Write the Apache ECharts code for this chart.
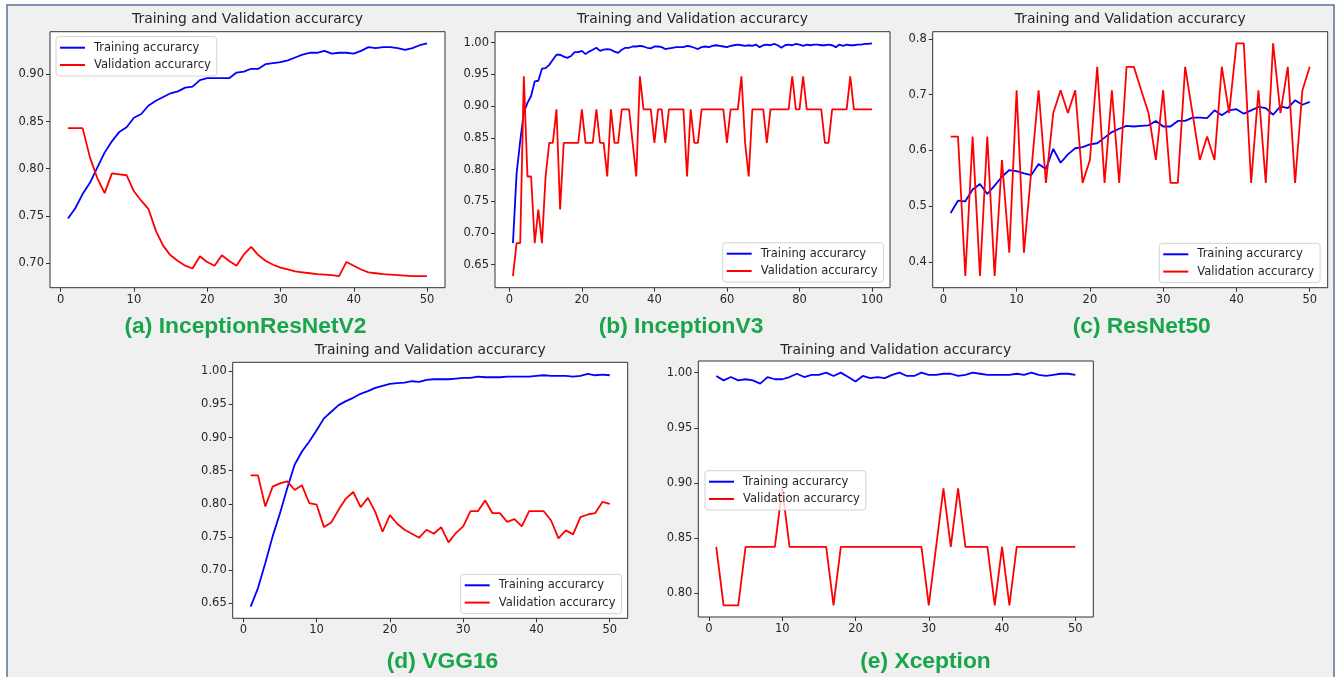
<!DOCTYPE html>
<html>
<head>
<meta charset="utf-8">
<script src="https://cdn.jsdelivr.net/npm/echarts@6/dist/echarts.min.js"></script>
<style>
  html, body { margin: 0; padding: 0; background: #fff; }
  #chart { width: 1339px; height: 677px; }
</style>
</head>
<body>
<div id="chart"></div>
<script>
// accuracy per epoch
const trainA = [0.747, 0.758, 0.773, 0.785, 0.801, 0.817, 0.829, 0.839, 0.844, 0.854,
  0.858, 0.867, 0.872, 0.876, 0.880, 0.882, 0.886, 0.887, 0.894, 0.896,
  0.896, 0.896, 0.896, 0.902, 0.903, 0.906, 0.906, 0.911, 0.912, 0.913,
  0.915, 0.918, 0.921, 0.923, 0.923, 0.925, 0.922, 0.923, 0.923, 0.922,
  0.925, 0.929, 0.928, 0.929, 0.929, 0.928, 0.926, 0.928, 0.931, 0.933];
const valA = [0.843, 0.843, 0.843, 0.812, 0.790, 0.774, 0.795, 0.794, 0.793, 0.776,
  0.766, 0.757, 0.734, 0.718, 0.708, 0.702, 0.697, 0.694, 0.707, 0.701,
  0.697, 0.708, 0.702, 0.697, 0.709, 0.717, 0.708, 0.702, 0.698, 0.695,
  0.693, 0.691, 0.690, 0.689, 0.688, 0.6875, 0.687, 0.686, 0.701, 0.697,
  0.693, 0.690, 0.689, 0.688, 0.6875, 0.687, 0.6865, 0.686, 0.686, 0.686];

const trainB = [0.684, 0.793, 0.845, 0.890, 0.905, 0.916, 0.939, 0.940, 0.959, 0.960,
  0.965, 0.973, 0.981, 0.981, 0.978, 0.976, 0.979, 0.985, 0.985, 0.987,
  0.982, 0.986, 0.989, 0.992, 0.987, 0.989, 0.990, 0.989, 0.986, 0.984,
  0.989, 0.992, 0.992, 0.994, 0.994, 0.995, 0.994, 0.992, 0.991, 0.994,
  0.994, 0.993, 0.990, 0.991, 0.992, 0.993, 0.993, 0.993, 0.995, 0.994,
  0.992, 0.990, 0.993, 0.994, 0.993, 0.995, 0.996, 0.995, 0.994, 0.993,
  0.995, 0.996, 0.997, 0.996, 0.995, 0.996, 0.995, 0.997, 0.993, 0.996,
  0.997, 0.996, 0.998, 0.996, 0.992, 0.996, 0.997, 0.996, 0.998, 0.997,
  0.995, 0.997, 0.996, 0.997, 0.997, 0.996, 0.996, 0.997, 0.996, 0.993,
  0.997, 0.995, 0.997, 0.996, 0.996, 0.997, 0.997, 0.998, 0.998, 0.999];
const valB = [0.632, 0.684, 0.684, 0.947, 0.789, 0.789, 0.684, 0.737, 0.684, 0.789,
  0.842, 0.842, 0.895, 0.737, 0.842, 0.842, 0.842, 0.842, 0.842, 0.895,
  0.842, 0.842, 0.842, 0.895, 0.842, 0.842, 0.789, 0.895, 0.842, 0.842,
  0.895, 0.895, 0.895, 0.842, 0.789, 0.947, 0.895, 0.895, 0.895, 0.842,
  0.895, 0.895, 0.842, 0.895, 0.895, 0.895, 0.895, 0.895, 0.789, 0.895,
  0.842, 0.842, 0.895, 0.895, 0.895, 0.895, 0.895, 0.895, 0.895, 0.842,
  0.895, 0.895, 0.895, 0.947, 0.842, 0.789, 0.895, 0.895, 0.895, 0.895,
  0.842, 0.895, 0.895, 0.895, 0.895, 0.895, 0.895, 0.947, 0.895, 0.895,
  0.947, 0.895, 0.895, 0.895, 0.895, 0.895, 0.842, 0.842, 0.895, 0.895,
  0.895, 0.895, 0.895, 0.947, 0.895, 0.895, 0.895, 0.895, 0.895, 0.895];

const trainC = [0.488, 0.510, 0.509, 0.530, 0.540, 0.522, 0.537, 0.553, 0.565, 0.563,
  0.559, 0.556, 0.576, 0.567, 0.603, 0.578, 0.593, 0.604, 0.606, 0.611,
  0.613, 0.623, 0.633, 0.639, 0.644, 0.643, 0.644, 0.645, 0.653, 0.643,
  0.643, 0.653, 0.653, 0.659, 0.659, 0.658, 0.672, 0.663, 0.672, 0.674,
  0.666, 0.672, 0.678, 0.676, 0.664, 0.679, 0.676, 0.690, 0.682, 0.687];
const valC = [0.625, 0.625, 0.375, 0.625, 0.375, 0.625, 0.375, 0.583, 0.417, 0.708,
  0.417, 0.563, 0.708, 0.542, 0.667, 0.708, 0.667, 0.708, 0.542, 0.583,
  0.750, 0.542, 0.708, 0.542, 0.750, 0.750, 0.708, 0.667, 0.583, 0.708,
  0.542, 0.542, 0.750, 0.667, 0.583, 0.625, 0.583, 0.750, 0.667, 0.792,
  0.792, 0.542, 0.708, 0.542, 0.792, 0.667, 0.750, 0.542, 0.708, 0.750];

const trainD = [0.645, 0.673, 0.711, 0.751, 0.786, 0.824, 0.859, 0.879, 0.894, 0.911,
  0.929, 0.939, 0.949, 0.955, 0.960, 0.966, 0.970, 0.975, 0.978, 0.981,
  0.982, 0.983, 0.985, 0.984, 0.987, 0.988, 0.988, 0.988, 0.989, 0.990,
  0.990, 0.992, 0.991, 0.991, 0.991, 0.992, 0.992, 0.992, 0.992, 0.993,
  0.994, 0.993, 0.993, 0.993, 0.992, 0.993, 0.996, 0.994, 0.995, 0.994];
const valD = [0.843, 0.843, 0.796, 0.826, 0.831, 0.834, 0.821, 0.828, 0.801, 0.799,
  0.765, 0.772, 0.791, 0.808, 0.818, 0.795, 0.809, 0.788, 0.758, 0.783,
  0.770, 0.761, 0.755, 0.749, 0.761, 0.755, 0.765, 0.742, 0.756, 0.766,
  0.789, 0.789, 0.805, 0.786, 0.786, 0.773, 0.777, 0.766, 0.789, 0.789,
  0.789, 0.775, 0.748, 0.760, 0.754, 0.780, 0.784, 0.786, 0.803, 0.800];

const trainE = [0.997, 0.993, 0.996, 0.993, 0.994, 0.993, 0.990, 0.996, 0.994, 0.994,
  0.996, 0.999, 0.996, 0.998, 0.998, 1.000, 0.997, 1.000, 0.996, 0.992,
  0.997, 0.995, 0.996, 0.995, 0.998, 1.000, 0.997, 0.997, 1.000, 0.998,
  0.998, 0.999, 0.999, 0.997, 0.998, 1.000, 0.999, 0.998, 0.998, 0.998,
  0.998, 0.999, 0.998, 1.000, 0.998, 0.997, 0.998, 0.999, 0.999, 0.998];
const valE = [0.842, 0.789, 0.789, 0.789, 0.842, 0.842, 0.842, 0.842, 0.842, 0.895,
  0.842, 0.842, 0.842, 0.842, 0.842, 0.842, 0.789, 0.842, 0.842, 0.842,
  0.842, 0.842, 0.842, 0.842, 0.842, 0.842, 0.842, 0.842, 0.842, 0.789,
  0.842, 0.895, 0.842, 0.895, 0.842, 0.842, 0.842, 0.842, 0.789, 0.842,
  0.789, 0.842, 0.842, 0.842, 0.842, 0.842, 0.842, 0.842, 0.842, 0.842];

// tick labels
const xTicks50 = [0, 10, 20, 30, 40, 50];
const xTicks100 = [0, 20, 40, 60, 80, 100];
const yTicksA = [0.70, 0.75, 0.80, 0.85, 0.90];
const yTicksB = [0.65, 0.70, 0.75, 0.80, 0.85, 0.90, 0.95, 1.00];
const yTicksC = [0.4, 0.5, 0.6, 0.7, 0.8];
const yTicksD = [0.65, 0.70, 0.75, 0.80, 0.85, 0.90, 0.95, 1.00];
const yTicksE = [0.80, 0.85, 0.90, 0.95, 1.00];

const captions = ['(a) InceptionResNetV2', '(b) InceptionV3', '(c) ResNet50', '(d) VGG16', '(e) Xception'];
const plotTitle = 'Training and Validation accurarcy';
const trainName = 'Training accurarcy';
const valName = 'Validation accurarcy';

// layout of each subplot (pixels)
const panels = [
  { train: trainA, val: valA, xTicks: xTicks50, yTicks: yTicksA, dec: 2, box: [50, 31.7], legend: [56, 36.7], cap: [245.5, 327], titleY: 19.5 },
  { train: trainB, val: valB, xTicks: xTicks100, yTicks: yTicksB, dec: 2, box: [495, 31.7], legend: [722.7, 242.7], cap: [681, 327], titleY: 19.5 },
  { train: trainC, val: valC, xTicks: xTicks50, yTicks: yTicksC, dec: 1, box: [932.7, 31.7], legend: [1159.3, 243.3], cap: [1141.7, 327], titleY: 19.5 },
  { train: trainD, val: valD, xTicks: xTicks50, yTicks: yTicksD, dec: 2, box: [232.7, 362.3], legend: [460.7, 574.3], cap: [442.5, 661.7], titleY: 350.5 },
  { train: trainE, val: valE, xTicks: xTicks50, yTicks: yTicksE, dec: 2, box: [698.3, 361], legend: [705, 470.7], cap: [925.5, 661.7], titleY: 350.5 }
];
const PW = 395, PH = 256;

// matplotlib style 5% margins
function padExtent(lo, hi) {
  const m = (hi - lo) * 0.05;
  return [lo - m, hi + m];
}

const tickFont = { color: '#262626', fontSize: 11.5, fontFamily: 'DejaVu Sans' };

const chart = echarts.init(document.getElementById('chart'), null, { renderer: 'canvas' });

const grids = [], xAxes = [], yAxes = [], series = [], legends = [], titles = [];

panels.forEach((p, i) => {
  const n = p.train.length;
  const xr = padExtent(1, n);
  const all = p.train.concat(p.val);
  const yr = padExtent(Math.min(...all), Math.max(...all));

  grids.push({
    left: p.box[0], top: p.box[1], width: PW, height: PH,
    show: true, backgroundColor: '#fff', borderColor: '#333', borderWidth: 1
  });
  xAxes.push({
    type: 'value', gridIndex: i, min: xr[0], max: xr[1],
    axisLine: { show: false, onZero: false },
    axisTick: { show: true, length: 4, lineStyle: { color: '#333' }, customValues: p.xTicks },
    axisLabel: Object.assign({ customValues: p.xTicks, margin: 6 }, tickFont),
    splitLine: { show: false }
  });
  yAxes.push({
    type: 'value', gridIndex: i, min: yr[0], max: yr[1],
    axisLine: { show: false, onZero: false },
    axisTick: { show: true, length: 4, lineStyle: { color: '#333' }, customValues: p.yTicks },
    axisLabel: Object.assign({ customValues: p.yTicks, margin: 6, formatter: v => v.toFixed(p.dec) }, tickFont),
    splitLine: { show: false }
  });
  series.push({
    name: trainName, type: 'line', xAxisIndex: i, yAxisIndex: i,
    data: p.train.map((v, k) => [k + 1, v]),
    symbol: 'none', lineStyle: { color: '#0000ff', width: 1.8 }, itemStyle: { color: '#0000ff' }
  });
  series.push({
    name: valName, type: 'line', xAxisIndex: i, yAxisIndex: i,
    data: p.val.map((v, k) => [k + 1, v]),
    symbol: 'none', lineStyle: { color: '#ff0000', width: 1.8 }, itemStyle: { color: '#ff0000' }
  });
  legends.push({
    data: [trainName, valName],
    orient: 'vertical', left: p.legend[0], top: p.legend[1],
    icon: 'rect', itemWidth: 25, itemHeight: 2, itemGap: 3.3,
    padding: [4, 6, 4, 4],
    backgroundColor: 'rgba(255,255,255,0.8)', borderColor: '#d3d3d3', borderWidth: 1, borderRadius: 3,
    textStyle: { color: '#262626', fontSize: 11.5, lineHeight: 14, fontFamily: 'DejaVu Sans', padding: [0, 0, 0, 4] },
    selectedMode: false
  });
  titles.push({
    text: plotTitle, left: p.box[0] + PW / 2, top: p.titleY, padding: 0,
    textAlign: 'center', textVerticalAlign: 'middle',
    textStyle: { color: '#262626', fontSize: 13.9, fontWeight: 'normal', fontFamily: 'DejaVu Sans' }
  });
  titles.push({
    text: captions[i], left: p.cap[0], top: p.cap[1], padding: 0,
    textAlign: 'center', textVerticalAlign: 'middle',
    textStyle: { color: '#19a64b', fontSize: 22.8, fontWeight: 'bold', fontFamily: 'Liberation Sans' }
  });
});

chart.setOption({
  animation: false,
  backgroundColor: '#fff',
  graphic: [{
    type: 'rect', z: -10, silent: true,
    shape: { x: 7, y: 5, width: 1327, height: 700 },
    style: { fill: '#f0f0f0', stroke: '#5b6f9e', lineWidth: 1.5 }
  }],
  title: titles,
  legend: legends,
  grid: grids,
  xAxis: xAxes,
  yAxis: yAxes,
  series: series
});
</script>
</body>
</html>
